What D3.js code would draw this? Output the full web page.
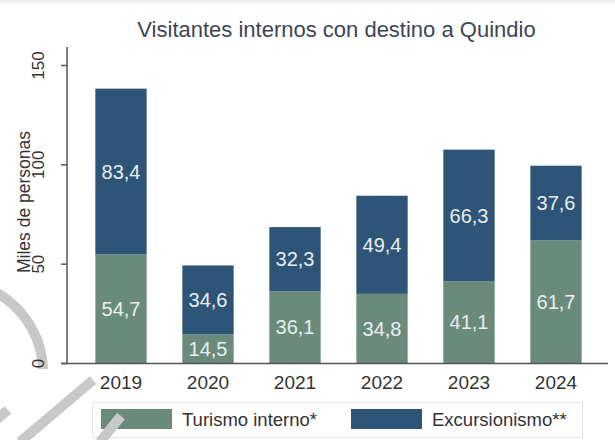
<!DOCTYPE html>
<html lang="es">
<head>
<meta charset="utf-8">
<script src="https://cdn.jsdelivr.net/npm/d3@7"></script>
<style>
  html, body { margin: 0; padding: 0; background: #ffffff; }
  svg { display: block; font-family: "Liberation Sans", Arial, Helvetica, sans-serif; }
</style>
</head>
<body>
<svg id="chart" width="615" height="440"></svg>
<script>
// Visitantes internos con destino a Quindío (miles de personas)
const years = ["2019", "2020", "2021", "2022", "2023", "2024"];
const turismoInterno = [54.7, 14.5, 36.1, 34.8, 41.1, 61.7];
const excursionismo = [83.4, 34.6, 32.3, 49.4, 66.3, 37.6];
const yTicks = [0, 50, 100, 150];
const seriesNames = ["Turismo interno*", "Excursionismo**"];

const colors = ["#6a8b7c", "#2e5478"];
const font = "\"Liberation Sans\", Arial, sans-serif";
const svg = d3.select("#chart");

// faint strip along the top edge
svg.append("rect").attr("x", 0).attr("y", 0).attr("width", 615).attr("height", 3).attr("fill", "#eef2f1");

const x = d3.scaleBand().domain(years).range([77.5, 599.5]).paddingInner(0.41).paddingOuter(0.205);
const y = d3.scaleLinear().domain([0, 150]).range([363, 65]);

// stacked data
const rows = years.map((yr, i) => ({ year: yr, turismo: turismoInterno[i], excursion: excursionismo[i] }));
const layers = d3.stack().keys(["turismo", "excursion"])(rows);

// grey arc behind the axis labels
const arc = d3.arc().innerRadius(86).outerRadius(96).startAngle(0.06 * Math.PI).endAngle(0.49 * Math.PI);
svg.append("path").attr("d", arc).attr("transform", "translate(-48,372)").attr("fill", "#c8c8c8");

// title
svg.append("text")
  .attr("x", 336.5).attr("y", 37)
  .attr("text-anchor", "middle")
  .attr("font-size", 22)
  .attr("fill", "#3d4654")
  .text("Visitantes internos con destino a Quindio");

// bars
const g = svg.append("g");
layers.forEach((layer, li) => {
  g.selectAll(null).data(layer).enter().append("rect")
    .attr("x", d => x(d.data.year))
    .attr("width", x.bandwidth())
    .attr("y", d => y(d[1]))
    .attr("height", d => y(d[0]) - y(d[1]))
    .attr("fill", colors[li]);
  g.selectAll(null).data(layer).enter().append("text")
    .attr("x", d => x(d.data.year) + x.bandwidth() / 2)
    .attr("y", d => (y(d[0]) + y(d[1])) / 2)
    .attr("dy", "0.36em")
    .attr("text-anchor", "middle")
    .attr("font-size", 20)
    .attr("fill", "#e9efee")
    .text(d => d3.format(".1f")(d[1] - d[0]).replace(".", ","));
});

// y axis: ticks from the axis generator, labels rotated
const yAxis = d3.axisLeft(y).tickValues(yTicks).tickSize(6).tickSizeOuter(0).tickFormat("");
const ya = svg.append("g").attr("transform", "translate(67,0)").call(yAxis);
ya.select(".domain").remove();
ya.selectAll(".tick line").attr("stroke", "#555").attr("stroke-width", 1.5);
ya.selectAll(".tick").append("text")
  .attr("transform", "translate(-23,0) rotate(-90)")
  .attr("text-anchor", "middle")
  .attr("font-size", 17)
  .attr("font-family", font)
  .attr("fill", "#333")
  .text(d => d);
svg.append("line").attr("x1", 67).attr("x2", 67).attr("y1", 47).attr("y2", 364)
  .attr("stroke", "#555").attr("stroke-width", 1.5);

// y axis title
svg.append("text")
  .attr("transform", "translate(30,202) rotate(-90)")
  .attr("text-anchor", "middle")
  .attr("font-size", 17.5)
  .attr("fill", "#333")
  .text("Miles de personas");

// x axis
const xAxis = d3.axisBottom(x).tickSize(0).tickPadding(13);
const xa = svg.append("g").attr("transform", "translate(0,363)").call(xAxis);
xa.select(".domain").remove();
xa.selectAll(".tick text").attr("font-size", 19).attr("fill", "#333").attr("font-family", font);
svg.append("line").attr("x1", 61).attr("x2", 608).attr("y1", 363.5).attr("y2", 363.5)
  .attr("stroke", "#555").attr("stroke-width", 1.5);

// legend
const lg = svg.append("g");
lg.append("rect").attr("x", 92.5).attr("y", 402.5).attr("width", 490).attr("height", 35)
  .attr("fill", "#fff").attr("stroke", "#e3e9e8").attr("stroke-width", 1);
const legendX = [101, 351];
seriesNames.forEach((name, i) => {
  lg.append("rect").attr("x", legendX[i]).attr("y", 409).attr("width", 71).attr("height", 20).attr("fill", colors[i]);
  lg.append("text").attr("x", legendX[i] + 81).attr("y", 426)
    .attr("font-size", 18.5).attr("fill", "#333").text(name);
});

// grey diagonal strokes in the lower-left corner
const wm = svg.append("g").attr("fill", "none").attr("stroke", "#c8c8c8").attr("stroke-width", 10);
wm.append("line").attr("x1", 93).attr("y1", 380).attr("x2", 20).attr("y2", 442);
wm.append("line").attr("x1", 8).attr("y1", 410).attr("x2", -30).attr("y2", 442);
wm.append("line").attr("x1", 121).attr("y1", 416).attr("x2", 100).attr("y2", 442);
</script>
</body>
</html>
